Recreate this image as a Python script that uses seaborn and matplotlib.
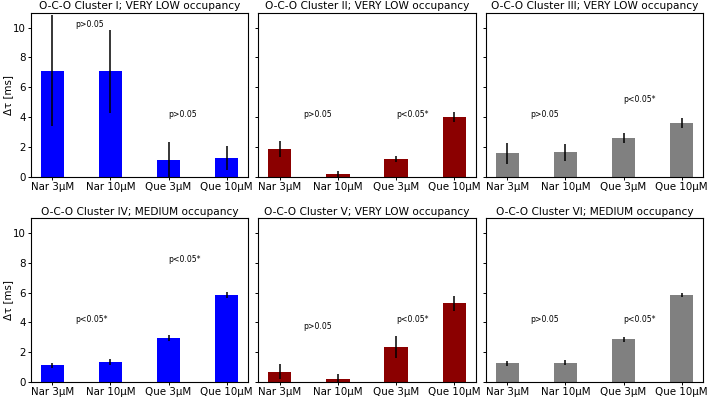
import matplotlib
matplotlib.use("Agg")
import matplotlib.pyplot as plt
import seaborn as sns
import pandas as pd

conditions = ["Nar 3\u03bcM", "Nar 10\u03bcM", "Que 3\u03bcM", "Que 10\u03bcM"]

titles = [
    "O-C-O Cluster I; VERY LOW occupancy",
    "O-C-O Cluster II; VERY LOW occupancy",
    "O-C-O Cluster III; VERY LOW occupancy",
    "O-C-O Cluster IV; MEDIUM occupancy",
    "O-C-O Cluster V; VERY LOW occupancy",
    "O-C-O Cluster VI; MEDIUM occupancy",
]

values_I = [7.12, 7.07, 1.12, 1.24]
errors_I = [3.72, 2.80, 1.23, 0.80]
values_II = [1.84, 0.16, 1.21, 3.99]
errors_II = [0.53, 0.25, 0.20, 0.33]
values_III = [1.57, 1.64, 2.62, 3.60]
errors_III = [0.72, 0.58, 0.33, 0.34]
values_IV = [1.13, 1.34, 2.96, 5.84]
errors_IV = [0.16, 0.17, 0.20, 0.20]
values_V = [0.69, 0.22, 2.34, 5.27]
errors_V = [0.50, 0.35, 0.72, 0.48]
values_VI = [1.25, 1.29, 2.87, 5.83]
errors_VI = [0.18, 0.17, 0.18, 0.16]

all_values = [values_I, values_II, values_III, values_IV, values_V, values_VI]
all_errors = [errors_I, errors_II, errors_III, errors_IV, errors_V, errors_VI]

pvalue_texts = [
    ("p>0.05", "p>0.05"),
    ("p>0.05", "p<0.05*"),
    ("p>0.05", "p<0.05*"),
    ("p<0.05*", "p<0.05*"),
    ("p>0.05", "p<0.05*"),
    ("p>0.05", "p<0.05*"),
]
pvalue_heights = [
    (10.2, 4.2),
    (4.2, 4.2),
    (4.2, 5.2),
    (4.2, 8.2),
    (3.7, 4.2),
    (4.2, 4.2),
]
pvalue_x = (0.4, 2.0)

panel_colors = ["#0000ff", "#8b0000", "#808080", "#0000ff", "#8b0000", "#808080"]

rows = []
for i, (vals, errs) in enumerate(zip(all_values, all_errors)):
    for c, v, e in zip(conditions, vals, errs):
        rows.append({"panel": i, "condition": c, "value": v, "err": e})
df = pd.DataFrame(rows)

fig, axes = plt.subplots(2, 3, sharey=True, figsize=(7.08, 3.98), dpi=100)
axes = axes.ravel()

lefts = [30.7 / 708, 258.3 / 708, 485.7 / 708]
w = 217.5 / 708
bottoms = [(398 - 176.7) / 398, (398 - 382.0) / 398]
h = 164 / 398

for i, ax in enumerate(axes):
    r, c = divmod(i, 3)
    ax.set_position([lefts[c], bottoms[r], w, h])
    sub = df[df["panel"] == i]
    sns.barplot(data=sub, x="condition", y="value", order=conditions,
                color=panel_colors[i], saturation=1, width=0.4,
                errorbar=None, ax=ax)
    xs = [p.get_x() + p.get_width() / 2 for p in ax.patches]
    ax.errorbar(xs, sub["value"].values, yerr=sub["err"].values, fmt="none",
                ecolor="black", elinewidth=1.1, capsize=0)
    for (txt, yv, xv) in zip(pvalue_texts[i], pvalue_heights[i], pvalue_x):
        ax.text(xv, yv, txt, fontsize=5.6, ha="left", va="center")
    ax.set_title(titles[i], fontsize=7.6, pad=2.5)
    ax.set_xlim(-0.37, 3.37)
    ax.set_ylim(0, 11)
    ax.set_yticks([0, 2, 4, 6, 8, 10])
    ax.set_xlabel("")
    if c == 0:
        ax.set_ylabel("\u0394\u03c4 [ms]", fontsize=7.4)
        ax.yaxis.set_label_coords(-0.083, 0.5)
    else:
        ax.set_ylabel("")
    ax.tick_params(axis="both", labelsize=7.4, length=2.5, width=0.7, pad=1.0)
    for s in ax.spines.values():
        s.set_linewidth(0.8)

fig.savefig("out.png", dpi=100)
